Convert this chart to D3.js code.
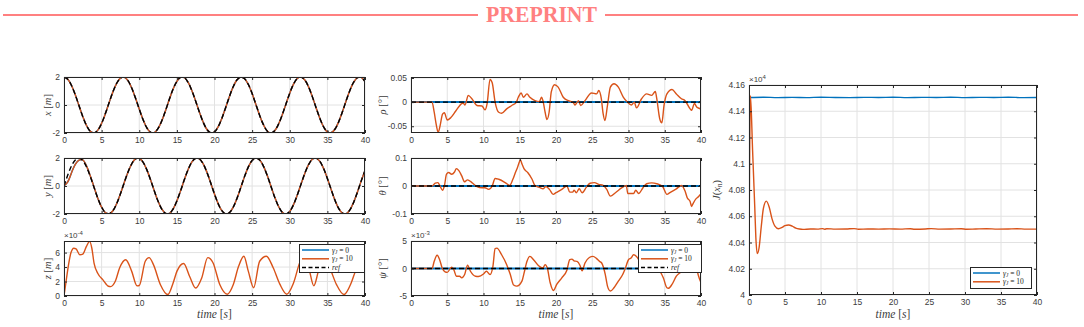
<!DOCTYPE html>
<html>
<head>
<meta charset="utf-8">
<script src="https://cdn.jsdelivr.net/npm/d3@7"></script>
<style>
  body { margin: 0; background: #fff; }
  svg { display: block; }
</style>
</head>
<body>
<svg id="fig" width="1084" height="327"></svg>
<script>
// ---- data ----
const timeTicks = [0, 5, 10, 15, 20, 25, 30, 35, 40];
const tGrid = d3.range(0, 40.001, 0.5);

// x [m], reference and tracked (they overlap)
const xRef = [2, 1.842, 1.393, 0.725, -0.058, -0.832, -1.475, -1.884, -1.997, -1.794,
  -1.307, -0.615, 0.175, 0.937, 1.551, 1.920, 1.986, 1.739, 1.217, 0.494,
  -0.291, -1.039, -1.624, -1.950, -1.969, -1.678, -1.125, -0.389, 0.406, 1.141,
  1.688, 1.972, 1.946, 1.612, 1.023, 0.273, -0.520, -1.231, -1.748, -1.988,
  -1.915, -1.539, -0.921, -0.159, 0.633, 1.321, 1.801, 1.998, 1.878, 1.463,
  0.816, 0.041, -0.741, -1.405, -1.849, -2.000, -1.834, -1.377, -0.706, 0.076,
  0.848, 1.491, 1.891, 1.995, 1.786, 1.294, 0.598, -0.193, -0.953, -1.564,
  -1.925, -1.984, -1.730, -1.206, -0.486, 0.309, 1.053, 1.633, 1.954, 1.966, 1.668];

// y [m]
const yRef = [0, 0.779, 1.435, 1.864, 1.999, 1.819, 1.351, 0.670, -0.117, -0.885,
  -1.514, -1.903, -1.992, -1.767, -1.263, -0.559, 0.233, 0.988, 1.587, 1.938,
  1.979, 1.709, 1.170, 0.446, -0.349, -1.088, -1.654, -1.962, -1.958, -1.643,
  -1.073, -0.331, 0.463, 1.184, 1.719, 1.981, 1.931, 1.576, 0.973, 0.216,
  -0.576, -1.277, -1.775, -1.994, -1.897, -1.502, -0.870, -0.099, 0.687, 1.364,
  1.826, 2.000, 1.858, 1.423, 0.762, -0.018, -0.796, -1.447, -1.871, -1.999,
  -1.811, -1.333, -0.651, 0.134, 0.901, 1.525, 1.909, 1.991, 1.758, 1.247,
  0.542, -0.251, -1.003, -1.595, -1.940, -1.976, -1.700, -1.155, -0.428, 0.366, 1.103];
const yTrackStart = [0, 0.30, 0.95, 1.55, 1.85, 1.86, 1.42, 0.72, -0.09];

// z [m] x1e-4, gamma = 10
const zG10 = [[0,0],[0.3,2.2],[0.6,4.3],[0.9,5.9],[1.3,6.6],[1.6,6.5],[2.1,5.7],[2.5,5.8],[3.0,6.9],[3.4,7.55],
  [3.7,6.6],[4.0,4.5],[4.5,3.1],[5.2,2.2],[5.9,1.35],[6.2,1.3],[6.8,2.0],[7.4,3.9],[8.2,5.0],[9.0,3.4],
  [9.7,1.4],[10.0,1.45],[10.8,4.8],[11.3,5.3],[11.9,4.3],[12.8,1.6],[13.8,0.2],[14.5,1.8],[15.0,3.4],[15.9,4.5],
  [16.7,2.7],[17.5,1.1],[18.3,2.5],[19.1,5.3],[19.8,4.6],[20.7,1.6],[21.7,0.25],[22.5,1.6],[23.2,4.1],[23.9,5.5],
  [24.5,3.4],[25.2,1.15],[26.0,4.8],[26.9,5.5],[27.8,3.9],[28.7,1.6],[29.6,0.25],[30.5,1.8],[31.4,4.8],[32.1,5.6],
  [32.6,3.6],[33.2,1.4],[33.8,3.4],[34.4,5.2],[35.3,3.9],[36.2,1.6],[37.2,0.2],[38.2,1.9],[38.8,3.6],[39.5,4.4],[40,3.9]];
const zeroLine = [[0,0],[40,0]];

// rho [deg], gamma = 10
const rhoG10 = [[0,0],[1.5,0],[2.9,0],[3.2,-0.021],[3.5,-0.048],[3.75,-0.063],[4.0,-0.05],[4.35,-0.025],[4.6,-0.022],[5.0,-0.037],
  [5.5,-0.032],[6.2,-0.018],[7.0,-0.003],[7.2,-0.002],[7.45,-0.006],[7.9,0.014],[8.4,0.007],[9.1,-0.007],[9.8,-0.008],[10.2,-0.016],
  [10.5,-0.003],[10.9,0.047],[11.2,0.04],[11.6,0],[12.1,-0.021],[12.5,-0.023],[13.2,-0.014],[13.9,-0.007],[14.5,-0.001],[14.8,0.01],
  [15.2,0.019],[15.5,0.01],[16.0,0.017],[16.4,0.01],[17.1,0.003],[17.7,0.001],[18.0,0.01],[18.2,0.003],[18.5,-0.021],[18.75,-0.036],
  [19.05,-0.021],[19.35,0.021],[19.8,0.036],[20.3,0.031],[21.0,0.01],[21.7,0.003],[22.4,-0.001],[22.6,-0.006],[23.1,0.003],[23.4,-0.007],
  [24.0,0.003],[24.9,0.019],[25.6,0.017],[25.9,0.024],[26.25,0.007],[26.5,-0.024],[26.75,-0.038],[27.1,-0.007],[27.5,0.031],[28.0,0.038],
  [28.6,0.031],[29.3,0.01],[29.8,0.001],[30.4,-0.006],[30.8,0],[31.1,-0.012],[31.8,0.007],[32.5,0.017],[33.2,0.014],[33.7,0.022],
  [33.9,0.007],[34.3,-0.034],[34.6,-0.043],[34.9,-0.007],[35.3,0.017],[36.0,0.026],[36.6,0.017],[37.3,0.007],[37.8,0.003],[38.5,-0.014],
  [38.7,-0.017],[39.1,-0.003],[39.4,-0.01],[39.9,-0.014],[40,-0.015]];

// theta [deg], gamma = 10
const thetaG10 = [[0,0],[1.5,0],[2.9,0],[3.35,0.01],[3.7,0.012],[4.0,0],[4.35,-0.015],[4.6,0],[4.9,0.042],[5.2,0.048],
  [5.6,0.042],[6.0,0.05],[6.25,0.062],[6.6,0.055],[7.0,0.036],[7.4,0.015],[7.8,0.022],[8.4,0.012],[9.1,-0.002],[9.8,-0.006],
  [10.2,-0.006],[10.7,-0.012],[11.2,0],[11.6,0.027],[12.1,0.024],[13.0,0.012],[13.6,0.002],[14.05,0.024],[14.4,0.048],[14.7,0.067],
  [15.1,0.093],[15.3,0.079],[15.6,0.061],[16.1,0.048],[16.7,0.024],[17.1,0.002],[17.8,-0.006],[18.2,-0.01],[18.6,-0.002],[19.1,-0.012],
  [19.6,-0.03],[20.0,-0.024],[20.8,-0.012],[21.5,0],[21.9,-0.022],[22.3,-0.022],[22.5,-0.015],[22.8,-0.024],[23.2,-0.01],[23.6,-0.024],
  [24.2,-0.004],[24.7,0.01],[25.3,0.012],[25.9,0.006],[26.5,0.002],[27.0,-0.012],[27.5,-0.036],[28.2,-0.024],[29.1,-0.006],[29.7,0.002],
  [29.9,-0.027],[30.7,-0.027],[31.0,-0.015],[31.4,-0.027],[32.0,-0.006],[32.5,0.008],[33.2,0.011],[33.9,0.008],[34.7,-0.002],[35.3,-0.03],
  [35.7,-0.024],[36.6,-0.01],[37.3,0.002],[37.8,-0.018],[38.1,-0.042],[38.5,-0.055],[38.7,-0.073],[38.9,-0.063],[39.3,-0.046],[39.6,-0.039],[40,-0.027]];

// psi [deg] x1e-3, gamma = 10
const psiG10 = [[0,0],[1.5,0],[2.9,0],[3.2,1.3],[3.6,2.4],[3.95,1.6],[4.3,0.1],[4.7,-0.6],[5.0,-0.7],[5.6,0.24],
  [5.95,-0.36],[6.25,-1.4],[6.7,-1.4],[7.0,-1.7],[7.4,-1.1],[7.8,0.6],[8.2,-0.5],[8.9,-1.4],[9.3,-1.45],[10.0,-1.0],
  [10.4,-0.5],[10.9,-1.1],[11.3,0.4],[11.6,3.6],[11.85,3.7],[12.5,2.5],[13.2,0.7],[13.7,-1.1],[14.15,-3.0],[14.6,-3.2],
  [15.3,-2.3],[15.6,-0.8],[16.0,1.3],[16.4,2.2],[16.9,1.6],[17.6,0.5],[18.2,0.1],[18.5,0.7],[18.8,0.1],[19.2,-2.6],
  [19.65,-4.0],[20.1,-2.9],[20.8,-1.7],[21.5,-0.3],[21.9,1.6],[22.2,1.7],[22.5,1.4],[22.9,1.3],[23.3,0.6],[23.6,-0.4],
  [24.0,1.0],[24.6,2.0],[25.1,2.2],[25.6,1.8],[26.0,1.3],[26.3,1.0],[26.8,-1.1],[27.1,-3.2],[27.5,-4.1],[28.0,-3.5],
  [28.6,-2.3],[29.2,-1.1],[29.5,-0.2],[30.0,1.6],[30.35,1.9],[30.7,2.5],[31.1,2.2],[31.6,1.2],[32.2,0.2],[32.8,-0.3],
  [33.5,0.6],[34.0,0.2],[34.35,-0.5],[34.8,-1.7],[35.3,-3.5],[35.5,-3.6],[36.0,-2.9],[36.6,-1.4],[37.3,-0.5],[37.9,0.8],
  [38.5,1.9],[38.9,1.8],[39.2,1.3],[39.6,-1.1],[40,-2.6]];

// J(x_n) x1e4
const jG0 = [[0,4.1505],[2,4.1507],[4,4.1504],[6,4.1506],[8,4.1504],[10,4.1507],[12,4.1505],[14,4.1504],[16,4.1506],[18,4.1505],
  [20,4.1507],[22,4.1504],[24,4.1506],[26,4.1505],[28,4.1507],[30,4.1504],[32,4.1506],[34,4.1505],[36,4.1507],[38,4.1504],[40,4.1505]];
const jG10 = [[0,4.0168],[0.2,4.152],[0.5,4.11],[0.8,4.067],[0.95,4.044],[1.15,4.0315],[1.4,4.036],[1.7,4.052],[2.0,4.066],[2.4,4.0715],
  [2.8,4.067],[3.2,4.058],[3.6,4.0525],[4.1,4.0505],[4.6,4.0515],[5.0,4.0528],[5.5,4.0533],[6.0,4.0525],[6.5,4.051],[7.0,4.0503],
  [7.5,4.0500],[8.5,4.0503],[9.5,4.0502],[10.2,4.0506],[10.5,4.0501],[10.8,4.0505],[12,4.0502],[13.5,4.0503],[14.6,4.0506],[15.2,4.0501],
  [16.5,4.0503],[18,4.0502],[19.5,4.0504],[21,4.0502],[22.4,4.0505],[23,4.0501],[24.5,4.0503],[25.3,4.0506],[26.5,4.0502],[28,4.0503],
  [29.5,4.0505],[30.2,4.0501],[31.5,4.0503],[33,4.0505],[34.5,4.0502],[36,4.0503],[37.2,4.0505],[38.5,4.0502],[40,4.0502]];

// ---- drawing ----
const svg = d3.select('#fig');
const blue = '#0072BD', orange = '#D95319';
const serif = '"Liberation Serif", "DejaVu Serif", serif';
const sans = '"Liberation Sans", Arial, sans-serif';
let clipCount = 0;

const pairs = vals => vals.map((v, i) => [tGrid[i], v]);
const fmt = d => String(+d.toFixed(3));

// header
const head = '#ff8080';
svg.append('line').attr('x1', 3).attr('x2', 478).attr('y1', 15).attr('y2', 15).attr('stroke', head).attr('stroke-width', 2);
svg.append('line').attr('x1', 605).attr('x2', 1078).attr('y1', 15).attr('y2', 15).attr('stroke', head).attr('stroke-width', 2);
svg.append('text').attr('x', 486).attr('y', 22)
  .attr('textLength', 111).attr('lengthAdjust', 'spacingAndGlyphs')
  .attr('font-family', serif).attr('font-weight', 'bold').attr('font-size', 24)
  .attr('fill', head).text('PREPRINT');

// label helper: parts = [[text, italic, 'sub'?]]
function richText(sel, parts) {
  parts.forEach(([t, it, sub]) => {
    const ts = sel.append('tspan').text(t).attr('font-style', it ? 'italic' : 'normal');
    if (sub === 'sub') ts.attr('font-size', '0.7em').attr('baseline-shift', '-25%');
  });
}

function drawPanel(cfg) {
  const g = svg.append('g');
  const x = d3.scaleLinear().domain([0, 40]).range([cfg.x0, cfg.x1]);
  const y = d3.scaleLinear().domain(cfg.yDomain).range([cfg.y1, cfg.y0]);

  const id = 'clip' + (clipCount++);
  svg.append('clipPath').attr('id', id).append('rect')
    .attr('x', cfg.x0).attr('y', cfg.y0).attr('width', cfg.x1 - cfg.x0).attr('height', cfg.y1 - cfg.y0);

  // grid
  g.append('g').selectAll('line').data(timeTicks).join('line')
    .attr('x1', d => x(d)).attr('x2', d => x(d)).attr('y1', cfg.y0).attr('y2', cfg.y1)
    .attr('stroke', '#e2e2e2').attr('stroke-width', 1);
  g.append('g').selectAll('line').data(cfg.yTicks).join('line')
    .attr('y1', d => y(d)).attr('y2', d => y(d)).attr('x1', cfg.x0).attr('x2', cfg.x1)
    .attr('stroke', '#e2e2e2').attr('stroke-width', 1);

  // series
  const plot = g.append('g').attr('clip-path', `url(#${id})`);
  cfg.series.forEach(s => {
    const line = d3.line().x(d => x(d[0])).y(d => y(d[1])).curve(s.curve || d3.curveMonotoneX);
    plot.append('path').datum(s.data).attr('d', line)
      .attr('fill', 'none').attr('stroke', s.color).attr('stroke-width', s.width || 1.4)
      .attr('stroke-dasharray', s.dash || null);
  });

  // axes, ticks pointing inwards on all four sides
  const ax = (gen, tr) => g.append('g').attr('transform', tr).call(gen)
    .attr('font-family', sans).attr('font-size', 8.5).attr('color', '#262626')
    .call(s => s.select('.domain').remove())
    .call(s => s.selectAll('text').attr('fill', '#3c3c3c'));
  ax(d3.axisBottom(x).tickValues(timeTicks).tickSize(-3).tickPadding(4).tickFormat(fmt), `translate(0,${cfg.y1})`);
  ax(d3.axisTop(x).tickValues(timeTicks).tickSize(-3).tickFormat(''), `translate(0,${cfg.y0})`);
  ax(d3.axisLeft(y).tickValues(cfg.yTicks).tickSize(-3).tickPadding(4).tickFormat(fmt), `translate(${cfg.x0},0)`);
  ax(d3.axisRight(y).tickValues(cfg.yTicks).tickSize(-3).tickFormat(''), `translate(${cfg.x1},0)`);

  g.append('rect').attr('x', cfg.x0 + 0.5).attr('y', cfg.y0 + 0.5)
    .attr('width', cfg.x1 - cfg.x0 - 1).attr('height', cfg.y1 - cfg.y0 - 1)
    .attr('fill', 'none').attr('stroke', '#262626').attr('stroke-width', 1);

  // y label
  const yl = g.append('text')
    .attr('transform', `translate(${cfg.x0 - cfg.yLabelOff},${(cfg.y0 + cfg.y1) / 2}) rotate(-90)`)
    .attr('text-anchor', 'middle').attr('dy', '0.35em')
    .attr('font-family', serif).attr('font-size', 10.5).attr('fill', '#3c3c3c');
  richText(yl, cfg.yLabel);

  // exponent
  if (cfg.exp) {
    const e = g.append('text').attr('x', cfg.x0).attr('y', cfg.y0 - 3)
      .attr('font-family', sans).attr('font-size', 8).attr('fill', '#3c3c3c');
    e.append('tspan').text('\u00d710');
    e.append('tspan').text(cfg.exp).attr('font-size', 6).attr('dy', -3);
  }

  // x label
  if (cfg.xLabel) {
    const xl = g.append('text').attr('x', (cfg.x0 + cfg.x1) / 2).attr('y', 318)
      .attr('text-anchor', 'middle').attr('font-family', serif).attr('font-size', 11.5).attr('fill', '#3c3c3c');
    richText(xl, [['time', true], [' [', false], ['s', true], [']', false]]);
  }

  if (cfg.legend) drawLegend(g, cfg.legend);
}

function drawLegend(g, lg) {
  const lgG = g.append('g');
  lgG.append('rect').attr('x', lg.x + 0.5).attr('y', lg.y + 0.5).attr('width', lg.w).attr('height', lg.h)
    .attr('fill', '#fff').attr('stroke', '#262626').attr('stroke-width', 1);
  lg.entries.forEach((en, i) => {
    const yy = lg.y + 6 + i * 8.8;
    lgG.append('line').attr('x1', lg.x + 3).attr('x2', lg.x + 30).attr('y1', yy).attr('y2', yy)
      .attr('stroke', en.color).attr('stroke-width', 1.5).attr('stroke-dasharray', en.dash || null);
    const t = lgG.append('text').attr('x', lg.x + 33).attr('y', yy + 2.5)
      .attr('font-family', serif).attr('font-size', 7.5).attr('fill', '#262626');
    richText(t, en.label);
  });
}

const gammaLabel = v => [['\u03b3', true], ['J', true, 'sub'], [' = ' + v, false]];
const legend3 = [
  { color: blue, label: gammaLabel(0) },
  { color: orange, label: gammaLabel(10) },
  { color: '#000', dash: '4,2.5', label: [['ref', true]] }
];
const refDash = '5,3';
const cols = { L: [64, 365], M: [411, 701] };
const rows = [[77, 133], [158, 214], [241, 296]];

// x
drawPanel({ x0: cols.L[0], x1: cols.L[1], y0: rows[0][0], y1: rows[0][1], yDomain: [-2, 2], yTicks: [-2, 0, 2],
  yLabelOff: 17, yLabel: [['x', true], [' [', false], ['m', true], [']', false]],
  series: [
    { data: pairs(xRef), color: blue, curve: d3.curveCatmullRom },
    { data: pairs(xRef), color: orange, curve: d3.curveCatmullRom },
    { data: pairs(xRef), color: '#000', dash: refDash, curve: d3.curveCatmullRom }
  ] });

// y
const yTrack = yTrackStart.concat(yRef.slice(yTrackStart.length));
drawPanel({ x0: cols.L[0], x1: cols.L[1], y0: rows[1][0], y1: rows[1][1], yDomain: [-2, 2], yTicks: [-2, 0, 2],
  yLabelOff: 17, yLabel: [['y', true], [' [', false], ['m', true], [']', false]],
  series: [
    { data: pairs(yTrack), color: blue, curve: d3.curveCatmullRom },
    { data: pairs(yTrack), color: orange, curve: d3.curveCatmullRom },
    { data: pairs(yRef), color: '#000', dash: refDash, curve: d3.curveCatmullRom }
  ] });

// z
drawPanel({ x0: cols.L[0], x1: cols.L[1], y0: rows[2][0], y1: rows[2][1], yDomain: [0, 7.6], yTicks: [0, 2, 4, 6],
  yLabelOff: 17, yLabel: [['z', true], [' [', false], ['m', true], [']', false]], exp: '-4', xLabel: true,
  series: [
    { data: zeroLine, color: blue, width: 2 },
    { data: zG10, color: orange },
    { data: zeroLine, color: '#000', dash: refDash }
  ],
  legend: { x: 299, y: 244, w: 65, h: 28, entries: legend3 } });

// rho
drawPanel({ x0: cols.M[0], x1: cols.M[1], y0: rows[0][0], y1: rows[0][1], yDomain: [-0.064, 0.052], yTicks: [-0.05, 0, 0.05],
  yLabelOff: 29, yLabel: [['\u03c1', true], [' [\u00b0]', false]],
  series: [
    { data: zeroLine, color: blue, width: 2 },
    { data: rhoG10, color: orange },
    { data: zeroLine, color: '#000', dash: refDash }
  ] });

// theta
drawPanel({ x0: cols.M[0], x1: cols.M[1], y0: rows[1][0], y1: rows[1][1], yDomain: [-0.1, 0.1], yTicks: [-0.1, 0, 0.1],
  yLabelOff: 29, yLabel: [['\u03b8', true], [' [\u00b0]', false]],
  series: [
    { data: zeroLine, color: blue, width: 2 },
    { data: thetaG10, color: orange },
    { data: zeroLine, color: '#000', dash: refDash }
  ] });

// psi
drawPanel({ x0: cols.M[0], x1: cols.M[1], y0: rows[2][0], y1: rows[2][1], yDomain: [-5, 5], yTicks: [-5, 0, 5],
  yLabelOff: 29, yLabel: [['\u03c8', true], [' [\u00b0]', false]], exp: '-3', xLabel: true,
  series: [
    { data: zeroLine, color: blue, width: 2 },
    { data: psiG10, color: orange },
    { data: zeroLine, color: '#000', dash: refDash }
  ],
  legend: { x: 638, y: 244, w: 63, h: 28, entries: legend3 } });

// J
drawPanel({ x0: 749, x1: 1037, y0: 85, y1: 295, yDomain: [4, 4.16], yTicks: [4, 4.02, 4.04, 4.06, 4.08, 4.1, 4.12, 4.14, 4.16],
  yLabelOff: 33, yLabel: [['J', true], ['(', false], ['x', true], ['n', true, 'sub'], [')', false]], exp: '4', xLabel: true,
  series: [
    { data: jG0, color: blue },
    { data: jG10, color: orange }
  ],
  legend: { x: 970, y: 267, w: 61, h: 21, entries: legend3.slice(0, 2) } });
</script>
</body>
</html>
